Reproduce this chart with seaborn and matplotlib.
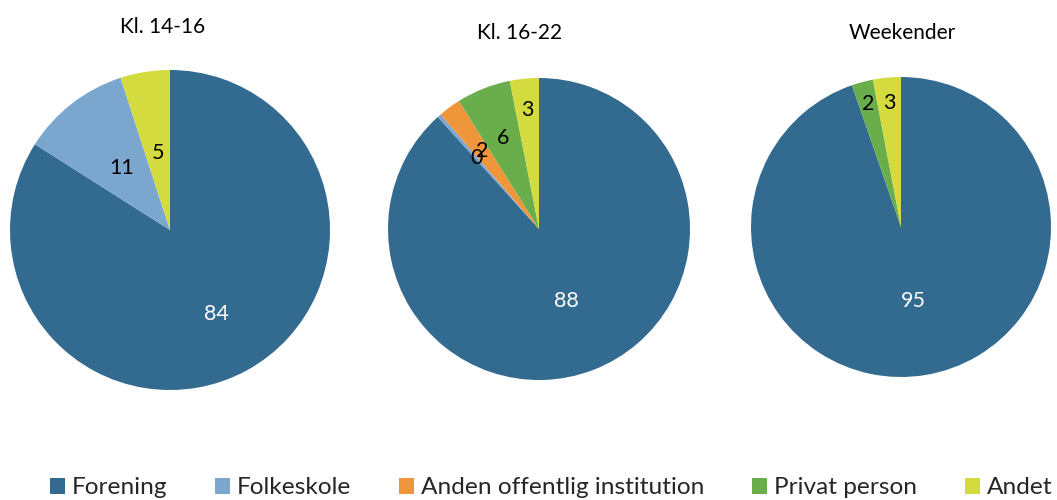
import numpy as np
import matplotlib
matplotlib.use("Agg")
import matplotlib.pyplot as plt
import seaborn as sns
from matplotlib.patches import Patch

sns.set_theme(style="white")
plt.rcParams['font.family'] = ['Lato', 'DejaVu Sans']

categories = ["Forening", "Folkeskole", "Anden offentlig institution", "Privat person", "Andet"]
titles = ["Kl. 14-16", "Kl. 16-22", "Weekender"]
values_1416 = [84, 11, 0, 0, 5]
values_1622 = [88.3, 0.4, 2.4, 5.8, 3.1]
values_weekend = [94.7, 0, 0, 2.3, 3.0]
colors = ["#336a90", "#7ba7ce", "#f0963a", "#6aae4c", "#d4db3f"]

all_values = [values_1416, values_1622, values_weekend]
# axes boxes in pixels (left, top, size)
boxes = [(10, 70, 320), (388, 78, 302), (751, 77, 300)]
label_dist = [
    [0.6, 0.49, 0.5, 0.5, 0.49],
    [0.51, 0.63, 0.64, 0.65, 0.79],
    [0.5, 0.5, 0.5, 0.85, 0.83],
]
title_pos = [(163, 27), (520, 33), (902, 33)]

W, H = 1057, 500
fig = plt.figure(figsize=(W / 100, H / 100), dpi=100)

for vals, (l, t, s), dists, title, (tx, ty) in zip(all_values, boxes, label_dist, titles, title_pos):
    ax = fig.add_axes([l / W, (H - t - s) / H, s / W, s / H])
    wedges, _ = ax.pie(vals, colors=colors, startangle=90, counterclock=False,
                       wedgeprops=dict(linewidth=0))
    ax.set_xlim(-1, 1)
    ax.set_ylim(-1, 1)
    ax.set_aspect("equal")
    ax.axis("off")
    for i, (w, v) in enumerate(zip(wedges, vals)):
        if v == 0:
            continue
        ang = np.deg2rad((w.theta1 + w.theta2) / 2)
        d = dists[i]
        ax.text(d * np.cos(ang), d * np.sin(ang), f"{int(round(v)):d}",
                ha="center", va="center", fontsize=15.5,
                color="white" if i == 0 else "black")
    fig.text(tx / W, 1 - ty / H, title, ha="center", va="center", fontsize=15, color="black")

handles = [Patch(facecolor=c, edgecolor="none") for c in colors]
fig.legend(handles, categories, loc="center left", bbox_to_anchor=(50 / W, 1 - 488 / H),
           ncol=5, frameon=False, fontsize=17.6, handlelength=0.6, handleheight=0.6,
           handletextpad=0.3, columnspacing=1.95, borderpad=0, borderaxespad=0)

fig.savefig("out.png", dpi=100)
